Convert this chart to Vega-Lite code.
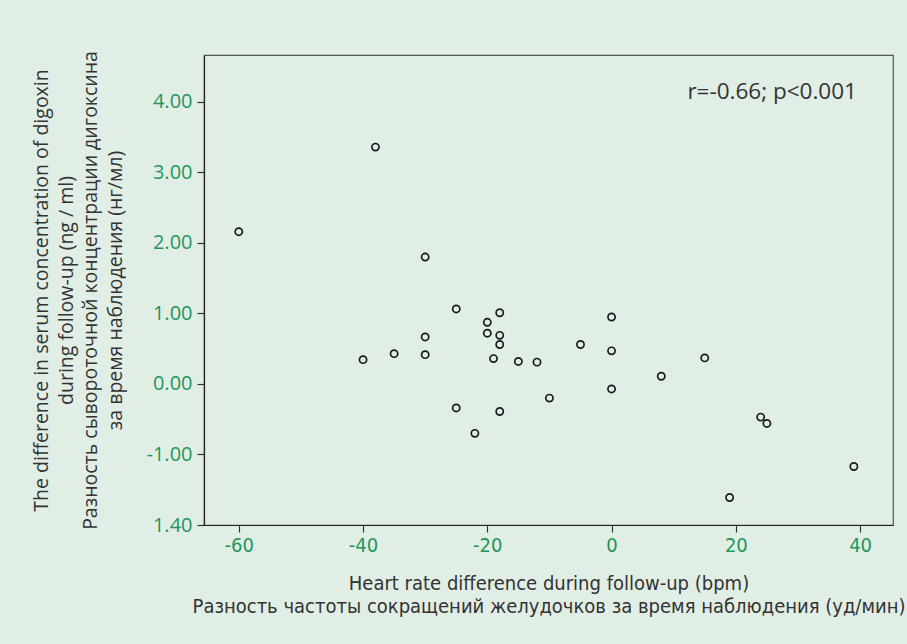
{
  "$schema": "https://vega.github.io/schema/vega-lite/v6.json",
  "width": 689,
  "height": 470,
  "autosize": {"type": "none"},
  "padding": {"left": 204, "top": 55, "right": 14, "bottom": 119},
  "background": "#e1eee5",
  "config": {
    "view": {"stroke": "#555", "strokeWidth": 1.2, "fill": "#e1eee5"},
    "axis": {
      "grid": false,
      "domainColor": "#222",
      "domainWidth": 1.2,
      "tickColor": "#333",
      "tickSize": 7,
      "tickWidth": 1.2,
      "labelColor": "#23965c",
      "titleColor": "#333",
      "titleFontWeight": "normal"
    }
  },
  "datasets": {
    "points": [
      {"hr": -60, "dig": 2.16},
      {"hr": -38, "dig": 3.36},
      {"hr": -40, "dig": 0.345},
      {"hr": -35, "dig": 0.43},
      {"hr": -30, "dig": 1.80},
      {"hr": -30, "dig": 0.667},
      {"hr": -30, "dig": 0.416},
      {"hr": -25, "dig": 1.064},
      {"hr": -25, "dig": -0.34},
      {"hr": -22, "dig": -0.70},
      {"hr": -20, "dig": 0.875},
      {"hr": -20, "dig": 0.72},
      {"hr": -19, "dig": 0.36},
      {"hr": -18, "dig": 1.01},
      {"hr": -18, "dig": 0.69},
      {"hr": -18, "dig": 0.56},
      {"hr": -18, "dig": -0.39},
      {"hr": -15, "dig": 0.32},
      {"hr": -12, "dig": 0.31},
      {"hr": -10, "dig": -0.20},
      {"hr": -5, "dig": 0.56},
      {"hr": 0, "dig": 0.95},
      {"hr": 0, "dig": 0.47},
      {"hr": 0, "dig": -0.07},
      {"hr": 8, "dig": 0.11},
      {"hr": 15, "dig": 0.37},
      {"hr": 19, "dig": -1.61},
      {"hr": 24, "dig": -0.47},
      {"hr": 25, "dig": -0.56},
      {"hr": 39, "dig": -1.17}
    ],
    "notes": [
      {"hr": 39.5, "dig": 4.14, "label": "r=-0.66; p<0.001"}
    ]
  },
  "layer": [
    {
      "data": {"name": "points"},
      "mark": {"type": "point", "shape": "circle", "filled": false, "stroke": "#1a1a1a", "strokeWidth": 1.7, "size": 52, "opacity": 1},
      "encoding": {
        "x": {
          "field": "hr",
          "type": "quantitative",
          "scale": {"domain": [-65.6, 45.3], "nice": false, "zero": false},
          "axis": {
            "values": [-60, -40, -20, 0, 20, 40],
            "labelExpr": "replace(format(datum.value, 'd'), '\u2212', '-')",
            "labelFont": "Liberation Sans Narrow, DejaVu Sans Condensed, sans-serif",
            "labelFontSize": 20,
            "labelPadding": 3,
            "title": ["Heart rate difference during follow-up (bpm)", "Разность частоты сокращений желудочков за время наблюдения (уд/мин)"],
            "titleFont": "Liberation Sans Narrow, DejaVu Sans Condensed, sans-serif",
            "titleFontSize": 20,
            "titleLineHeight": 23,
            "titlePadding": 18
          }
        },
        "y": {
          "field": "dig",
          "type": "quantitative",
          "scale": {"domain": [-2, 4.666], "nice": false, "zero": false},
          "axis": {
            "values": [-2, -1, 0, 1, 2, 3, 4],
            "labelExpr": "datum.value == -2 ? '1.40' : replace(format(datum.value, '.2f'), '\u2212', '-')",
            "labelFont": "Open Sans",
            "labelFontSize": 20,
            "labelPadding": 5,
            "title": ["The difference in serum concentration of digoxin", "during follow-up (ng / ml)", "Разность сывороточной концентрации дигоксина", "за время наблюдения (нг/мл)"],
            "titleFont": "Open Sans",
            "titleFontSize": 19.5,
            "titleLineHeight": 24.5,
            "titlePadding": 21
          }
        }
      }
    },
    {
      "data": {"name": "notes"},
      "mark": {"type": "text", "align": "right", "baseline": "middle", "font": "Open Sans", "fontSize": 22.5, "color": "#333"},
      "encoding": {
        "x": {"field": "hr", "type": "quantitative"},
        "y": {"field": "dig", "type": "quantitative"},
        "text": {"field": "label"}
      }
    }
  ]
}
